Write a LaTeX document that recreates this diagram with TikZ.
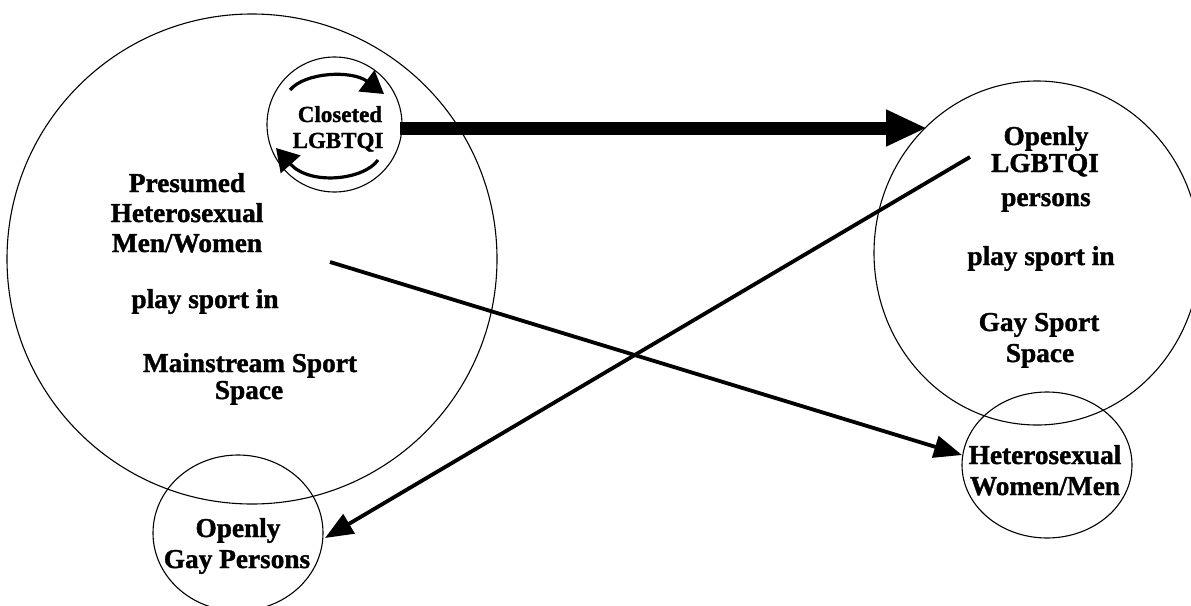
\documentclass[tikz,border=0pt]{standalone}
\usepackage{fontspec}
\setmainfont{Liberation Serif}[BoldFeatures={FakeBold=1.3}]
\usetikzlibrary{shapes.geometric,arrows.meta}
\tikzset{
  ring/.style={draw, ellipse, inner sep=0pt, line width=1.1pt},
  lbl/.style={font=\fontsize{27.3}{30}\selectfont\bfseries, inner sep=0pt, anchor=base},
  slbl/.style={font=\fontsize{23}{26}\selectfont\bfseries, inner sep=0pt, anchor=base},
  bigarrow/.style={line width=13pt, -{Triangle[length=41pt,width=34pt]}},
  thinarrow/.style={line width=3.8pt, -{Triangle[length=28pt,width=22pt]}},
  cyclearrow/.style={line width=3.2pt, -{Triangle[length=22pt,width=26pt]}}
}
\begin{document}
\begin{tikzpicture}[x=1pt,y=-1pt]
\useasboundingbox (0,0) rectangle (1191,605);
\fill[white] (0,0) rectangle (1191,605);
% circles
\node[ring, minimum width=490pt, minimum height=490pt] (main) at (252,259) {};
\node[ring, minimum width=135pt, minimum height=135pt] (closet) at (334.5,124.5) {};
\node[ring, minimum width=326pt, minimum height=344pt] (gay) at (1037,253) {};
\node[ring, minimum width=170pt, minimum height=146pt] (hwm) at (1047,465) {};
\node[ring, minimum width=170pt, minimum height=156pt] (ogp) at (238,533) {};
% texts
\node[lbl] (t1) at (187,192) {Presumed};
\node[lbl] (t2) at (187,222) {Heterosexual};
\node[lbl] (t3) at (187,252) {Men/Women};
\node[lbl] (t4) at (205,308) {play sport in};
\node[lbl] (t5) at (250,372) {Mainstream Sport};
\node[lbl] (t6) at (249,399) {Space};
\node[lbl] (r1) at (1046,145) {Openly};
\node[lbl] (r2) at (1045,172) {LGBTQI};
\node[lbl] (r3) at (1046,206) {persons};
\node[lbl] (r4) at (1041,265) {play sport in};
\node[lbl] (r5) at (1039,331) {Gay Sport};
\node[lbl] (r6) at (1040,362) {Space};
\node[lbl] (h1) at (1045,464) {Heterosexual};
\node[lbl] (h2) at (1045,495) {Women/Men};
\node[lbl] (g1) at (238,537) {Openly};
\node[lbl] (g2) at (237,568) {Gay Persons};
\node[slbl] (c1) at (340,122) {Closeted};
\node[slbl] (c2) at (338,148) {LGBTQI};
% connector end points
\coordinate (bigS) at (400,128);
\coordinate (bigE) at (927,128);
\coordinate (a1S) at (330,262);
\coordinate (a1E) at (962,455);
\coordinate (a2S) at (970,157);
\coordinate (a2E) at (325,538);
\coordinate (cyc1S) at (290,90);
\coordinate (cyc1E) at (384,94);
\coordinate (cyc2S) at (378,160);
\coordinate (cyc2E) at (276,148);
% connectors
\draw[bigarrow] (bigS) -- (bigE);
\draw[thinarrow] (a1S) -- (a1E);
\draw[thinarrow] (a2S) -- (a2E);
\draw[cyclearrow] (cyc1S) .. controls (305,72) and (352,70) .. (cyc1E);
\draw[cyclearrow] (cyc2S) .. controls (364,180) and (310,186) .. (cyc2E);
\end{tikzpicture}
\end{document}
